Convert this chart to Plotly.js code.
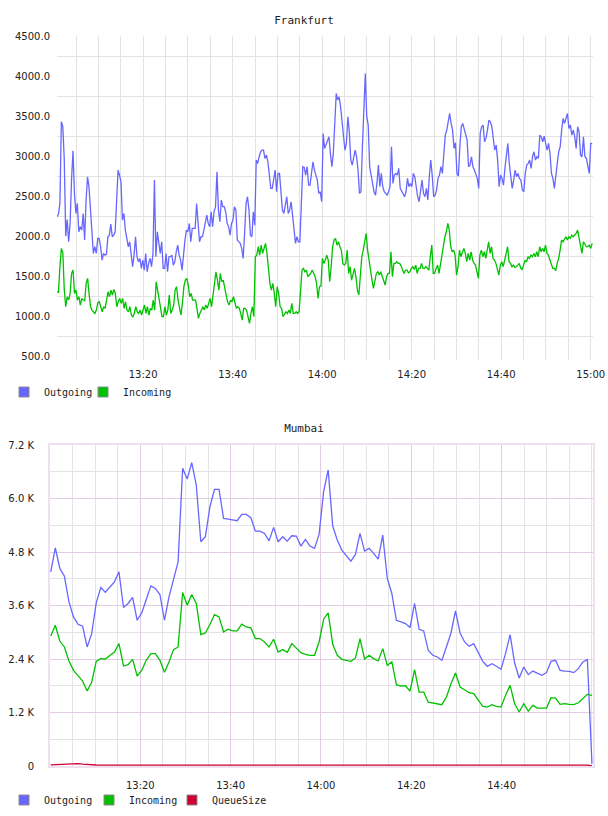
<!DOCTYPE html>
<html><head><meta charset="utf-8">
<script src="https://cdn.plot.ly/plotly-3.0.1.min.js"></script>
<style>
html,body{margin:0;padding:0;background:#fff;}
#c1{position:absolute;left:0;top:0;width:608px;height:410px;}
#c2{position:absolute;left:0;top:410px;width:608px;height:406px;}
</style></head><body>
<div id="c1"></div><div id="c2"></div>
<script>
// ---------- data ----------
const seriesNames = ['Outgoing', 'Incoming', 'QueueSize'];

const frankfurtStart = '2024-01-01 13:00:45';
const frankfurtEnd = '2024-01-01 15:00:20';
const frankfurtOutgoing = [
2246,2279,2412,3433,3371,2954,2004,2212,1933,2162,
2704,3071,2537,2287,2412,2058,2121,2079,2287,1954,
2454,2746,2621,2287,1954,1787,1871,1787,1975,1975,
1871,1704,1787,1766,1775,1996,2016,2154,1996,2016,
2058,2516,2829,2766,2683,2204,2287,2079,1954,1871,
1933,1746,1621,1766,1996,1746,1683,1725,1600,1704,
1579,1787,1558,1662,1725,1621,1787,2704,1746,2058,
1912,1787,1933,1600,1600,1787,1558,1746,1746,1766,
1641,1683,1808,1891,1766,1704,1579,1787,1954,2079,
2058,2162,1933,2100,2100,2100,2412,2204,1933,1996,
1996,2079,2204,2266,2162,2121,2308,2121,2308,2371,
2808,2329,2183,2454,2371,2371,2308,2162,2121,2016,
2162,2204,2371,2329,1954,1933,1912,1850,1725,2037,
2412,2496,2329,2016,1996,2308,2141,2954,2912,2996,
3058,3079,3079,2975,3016,2933,2787,2600,2600,2704,
2829,2558,2787,2787,2516,2329,2287,2412,2496,2287,
2329,2433,2266,2079,1912,1996,1933,1933,2329,2871,
2862,2766,2871,2641,2641,2787,2933,2829,2766,2704,
2537,2558,2433,3287,3100,3141,3204,3246,3037,2871,
3037,3454,3787,3704,3746,3621,
3454,3246,3079,3162,3496,3308,2954,2892,2975,3079,
2996,2829,2537,2558,3121,3579,4037,3496,3391,2871,
2766,2641,2558,2516,2662,2892,2621,2787,2621,2558,
2537,2516,2558,2621,3121,2662,2766,2787,2766,2850,
2600,2558,2516,2496,2558,2725,2621,2662,2621,2787,
2746,2579,2496,2433,2579,2704,2537,2496,2600,2454,
2746,2954,2766,2496,2516,2579,2725,2766,2871,2787,
3037,3266,3329,3412,3537,3412,3329,3100,3171,2787,
2754,3121,3371,3412,3329,3287,3204,2871,2892,2996,
2871,2829,2787,2725,2600,3287,3371,3391,3183,3225,
3329,3454,3433,3371,3225,3079,3141,2954,2621,2766,
2725,2641,2850,2996,3162,2912,2725,2600,2704,2829,
2746,2787,2725,2704,2579,2558,2787,2892,2912,2954,
2850,2996,3058,2954,2996,2975,3266,3246,3183,3254,
3162,3079,3162,3037,2787,2725,2600,2787,2912,3058,
3121,3329,3475,3412,3496,3537,3350,3391,3266,3329,
3246,3100,3371,3308,3016,2996,3246,2996,2975,2871,
2787,3162,3162
];
const frankfurtIncoming = [
1308,1300,1621,1850,1796,1329,1121,1246,1204,1287,
1537,1579,1287,1329,1204,1246,1142,1225,1204,1196,
1412,1475,1287,1121,1079,1058,1037,1079,1171,1183,
1100,1058,1121,1100,1204,1308,1246,1329,1267,1337,
1287,1121,1183,1225,1162,1225,1100,1183,1079,1058,
1121,1017,996,1037,1121,1058,1037,1079,1017,1100,
1142,1037,1121,1017,1100,1079,1204,1079,1433,1329,
1204,1121,996,996,1121,1017,1079,1267,1037,1079,
1142,1329,1371,1204,1121,1017,1162,1371,1454,1475,
1392,1246,1287,1204,1204,1204,1100,975,1037,1079,
1121,1079,1142,1100,1162,1225,1121,1246,1371,1558,
1454,1329,1537,1433,1454,1329,1267,1183,1142,1204,
1183,1246,1183,1100,1121,1100,1037,954,1100,1100,
1079,996,912,1037,1121,996,1746,1766,1871,1766,
1891,1787,1850,1912,1787,1579,1412,1329,1412,1287,
1121,1371,1287,1121,1100,996,1037,1058,1037,1079,
1037,1162,1037,1037,1058,1037,1058,1267,1579,1600,
1558,1579,1496,1517,1537,1579,1537,1496,1412,1225,
1371,1379,1725,1662,1704,1766,1704,1433,1621,1871,
1954,1975,1891,1933,1871,
1829,1662,1641,1662,1829,1537,1621,1454,1537,1600,
1496,1329,1267,1537,1746,1829,1933,2037,1829,1704,
1517,1454,1350,1475,1537,1558,1517,1558,1496,1433,
1392,1496,1537,1537,1808,1496,1662,1662,1683,1662,
1662,1629,1579,1537,1579,1579,1546,1558,1600,1621,
1587,1641,1537,1600,1600,1662,1600,1600,1621,1600,
1579,1746,1891,1537,1537,1600,1641,1537,1662,1766,
1933,1996,2058,2162,2079,1871,1808,1829,1766,1517,
1621,1829,1746,1808,1850,1787,1683,1787,1704,1808,
1704,1662,1641,1558,1475,1766,1829,1746,1808,1725,
1829,1933,1787,1871,1725,1704,1662,1579,1517,1641,
1683,1621,1704,1787,1871,1683,1662,1621,1641,1612,
1621,1641,1662,1600,1587,1641,1704,1683,1746,1725,
1766,1746,1787,1746,1808,1746,1871,1808,1850,1808,
1891,1787,1766,1704,1641,1600,1600,1571,1662,1725,
1829,1954,1933,1975,1996,1954,1996,1975,2016,1996,
2016,2037,2079,1996,1912,1787,1933,1891,1871,1871,
1891,1850,1912
];
const frankfurtTickVals = [500,1000,1500,2000,2500,3000,3500,4000,4500];

const mumbaiStart = '2024-01-01 13:00:10';
const mumbaiEnd = '2024-01-01 15:00:00';
const mumbaiOutgoing = [
4355,4894,4431,4258,3681,3344,3180,3135,2670,2970,
3658,4004,3899,4018,4130,4355,3555,3645,3780,3269,
3434,3735,4040,3982,3847,3269,3793,4184,4580,6678,
6438,6804,6303,5029,5141,5815,6206,6206,5555,5539,
5516,5501,5644,5644,5568,5269,5269,5217,5051,5352,
5029,5141,5044,5164,5157,4932,5082,4932,4880,5195,
6152,6640,5382,5067,4842,4707,4595,4745,5217,4820,
4880,4768,4640,5179,4206,3869,3269,3231,3195,3105,
3645,3067,3029,2595,2483,2445,2371,2670,2984,3479,
2984,2782,2685,2745,2535,2348,2236,2296,2236,2168,
2521,2948,2310,1973,2220,2049,2130,2085,2034,2094,
2348,2371,2146,2130,2123,2094,2184,2333,2386,50
];
const mumbaiIncoming = [
2917,3157,2797,2670,2355,2146,2027,1905,1681,1876,
2348,2408,2400,2483,2557,2745,2243,2274,2393,2018,
2146,2371,2521,2521,2371,2101,2333,2611,2670,3892,
3606,3847,3645,2948,2984,3172,3397,3344,3007,3067,
3029,3029,3180,3119,3097,2858,2858,2782,2670,2842,
2557,2611,2550,2745,2647,2543,2505,2483,2483,2782,
3292,3434,2730,2483,2393,2371,2348,2423,2857,2400,
2483,2408,2356,2633,2258,2333,1824,1794,1801,1681,
2161,1659,1659,1434,1412,1382,1375,1547,1846,2086,
1771,1711,1644,1622,1472,1337,1322,1375,1337,1322,
1584,1809,1397,1210,1397,1232,1359,1300,1300,1300,
1532,1524,1382,1397,1382,1375,1419,1509,1607,1584
];
const mumbaiQueueSize = [
25,30,38,48,55,56,52,42,32,26,
22,20,20,19,20,20,20,19,20,20,
20,20,19,20,20,20,20,20,19,20,
20,20,20,20,20,19,20,20,20,20,
20,20,20,19,20,20,20,20,20,20,
20,19,20,20,20,20,20,20,20,19,
20,20,20,20,20,20,19,20,20,20,
20,20,20,20,19,20,20,20,20,20,
20,20,20,19,20,20,20,20,20,20,
20,20,20,20,20,19,20,20,20,20,
20,20,19,20,20,20,20,20,20,20,
20,20,20,20,20,20,20,20,20,0
];
const mumbaiTickVals = [0,1200,2400,3600,4800,6000,7200];
const mumbaiTickText = ['0','1.2 K','2.4 K','3.6 K','4.8 K','6.0 K','7.2 K'];
const mumbaiTimeTicks = ['2024-01-01 13:20','2024-01-01 13:40','2024-01-01 14:00','2024-01-01 14:20','2024-01-01 14:40'];

// ---------- helpers ----------
function toMs(s){
  const [d,t]=s.split(' ');
  const [Y,M,D]=d.split('-').map(Number);
  const [h,m,sec]=t.split(':').map(Number);
  return Date.UTC(Y,M-1,D,h,m,sec||0);
}
function timeAxis(start,end,n){
  const a=toMs(start), b=toMs(end), step=(b-a)/(n-1), out=[];
  for(let i=0;i<n;i++) out.push(a+i*step);
  return out;
}
const W = 608;
const COLORS = {Outgoing:'#6767ff', Incoming:'#00c000', QueueSize:'#cc0033'};
const TICKFONT = {family:'DejaVu Sans, sans-serif', size:10, color:'#222'};
const MONO = {family:'DejaVu Sans Mono, monospace', size:10, color:'#222'};

function lineTrace(name, values, start, end){
  return {type:'scatter', mode:'lines', name:name, x:timeAxis(start,end,values.length), y:values,
          line:{color:COLORS[name], width:1.3}, showlegend:false, hoverinfo:'skip'};
}
function legendTrace(name, legendId){
  return {type:'scatter', mode:'markers', name:name, x:[null], y:[null], legend:legendId,
          marker:{symbol:'square', size:10, color:COLORS[name], line:{color:'#8a8a8a', width:1}},
          showlegend:true, hoverinfo:'skip'};
}
function legendBox(H, yFromTop, leftPx){
  return {orientation:'h', x:leftPx/W, xref:'container', xanchor:'left', y:1-yFromTop/H, yref:'container', yanchor:'middle',
          font:MONO, itemwidth:30, bgcolor:'rgba(0,0,0,0)', borderwidth:0};
}

// ---------- Frankfurt ----------
const H1 = 410;
const data1 = [
  lineTrace(seriesNames[0], frankfurtOutgoing, frankfurtStart, frankfurtEnd),
  lineTrace(seriesNames[1], frankfurtIncoming, frankfurtStart, frankfurtEnd),
  legendTrace(seriesNames[0], 'legend'), legendTrace(seriesNames[1], 'legend2')
];
const layout1 = {
  width:W, height:H1, margin:{l:57, r:15, t:36, b:H1-360, pad:0},
  paper_bgcolor:'#fff', plot_bgcolor:'#fff',
  title:{text:'Frankfurt', font:{family:'DejaVu Sans Mono, monospace', size:11, color:'#222'},
         x:0.5, xref:'container', xanchor:'center', y:1-20/H1, yref:'container', yanchor:'middle'},
  xaxis:{type:'date', range:['2024-01-01 13:00:45','2024-01-01 15:00:31'],
         tick0:'2024-01-01 13:00:00', dtick:20*60000, tickformat:'%H:%M',
         showgrid:true, gridcolor:'#e3e3e3', gridwidth:1,
         minor:{tick0:'2024-01-01 13:00:00', dtick:5*60000, showgrid:true, gridcolor:'#e3e3e3', gridwidth:1},
         zeroline:false, showline:false, ticks:'', ticklabelstandoff:7, ticklabeloverflow:'allow',
         tickfont:TICKFONT, fixedrange:true},
  yaxis:{range:[455,4505], tickmode:'array', tickvals:frankfurtTickVals,
         ticktext:frankfurtTickVals.map(v=>v.toFixed(1)),
         showgrid:false, minor:{tick0:750, dtick:500, showgrid:true, gridcolor:'#e3e3e3', gridwidth:1},
         zeroline:false, showline:false, ticks:'', ticklabelstandoff:6, tickfont:TICKFONT, fixedrange:true},
  showlegend:true,
  legend:legendBox(H1, 392, 4),
  legend2:legendBox(H1, 392, 83)
};
Plotly.newPlot('c1', data1, layout1, {staticPlot:true, displayModeBar:false});

// ---------- Mumbai ----------
const H2 = 406;
const data2 = [
  lineTrace(seriesNames[0], mumbaiOutgoing, mumbaiStart, mumbaiEnd),
  lineTrace(seriesNames[1], mumbaiIncoming, mumbaiStart, mumbaiEnd),
  lineTrace(seriesNames[2], mumbaiQueueSize, mumbaiStart, mumbaiEnd),
  legendTrace(seriesNames[0], 'legend'), legendTrace(seriesNames[1], 'legend2'), legendTrace(seriesNames[2], 'legend3')
];
const layout2 = {
  width:W, height:H2, margin:{l:50, r:15, t:35, b:50, pad:0},
  paper_bgcolor:'#fff', plot_bgcolor:'#fff',
  title:{text:'Mumbai', font:{family:'DejaVu Sans Mono, monospace', size:11, color:'#222'},
         x:0.5, xref:'container', xanchor:'center', y:1-18/H2, yref:'container', yanchor:'middle'},
  xaxis:{type:'date', range:['2024-01-01 13:00:00','2024-01-01 15:00:14'],
         tickmode:'array', tickvals:mumbaiTimeTicks, tickformat:'%H:%M',
         showgrid:true, gridcolor:'#e2cce2', gridwidth:1,
         minor:{tickmode:'linear', tick0:'2024-01-01 13:00:00', dtick:5*60000, showgrid:true, gridcolor:'#e4e4e4', gridwidth:1},
         zeroline:false, showline:true, mirror:true, linecolor:'#eee0ee', linewidth:2,
         ticks:'', ticklabelstandoff:9, tickfont:TICKFONT, fixedrange:true},
  yaxis:{range:[0,7200], tickmode:'array', tickvals:mumbaiTickVals, ticktext:mumbaiTickText,
         showgrid:true, gridcolor:'#e2cce2', gridwidth:1,
         minor:{tickmode:'linear', tick0:0, dtick:600, showgrid:true, gridcolor:'#e4e4e4', gridwidth:1},
         zeroline:false, showline:true, mirror:true, linecolor:'#eee0ee', linewidth:2,
         ticks:'', ticklabelstandoff:12, tickfont:TICKFONT, fixedrange:true},
  showlegend:true,
  legend:legendBox(H2, 390, 4),
  legend2:legendBox(H2, 390, 89),
  legend3:legendBox(H2, 390, 172)
};
Plotly.newPlot('c2', data2, layout2, {staticPlot:true, displayModeBar:false});
</script>
</body></html>
